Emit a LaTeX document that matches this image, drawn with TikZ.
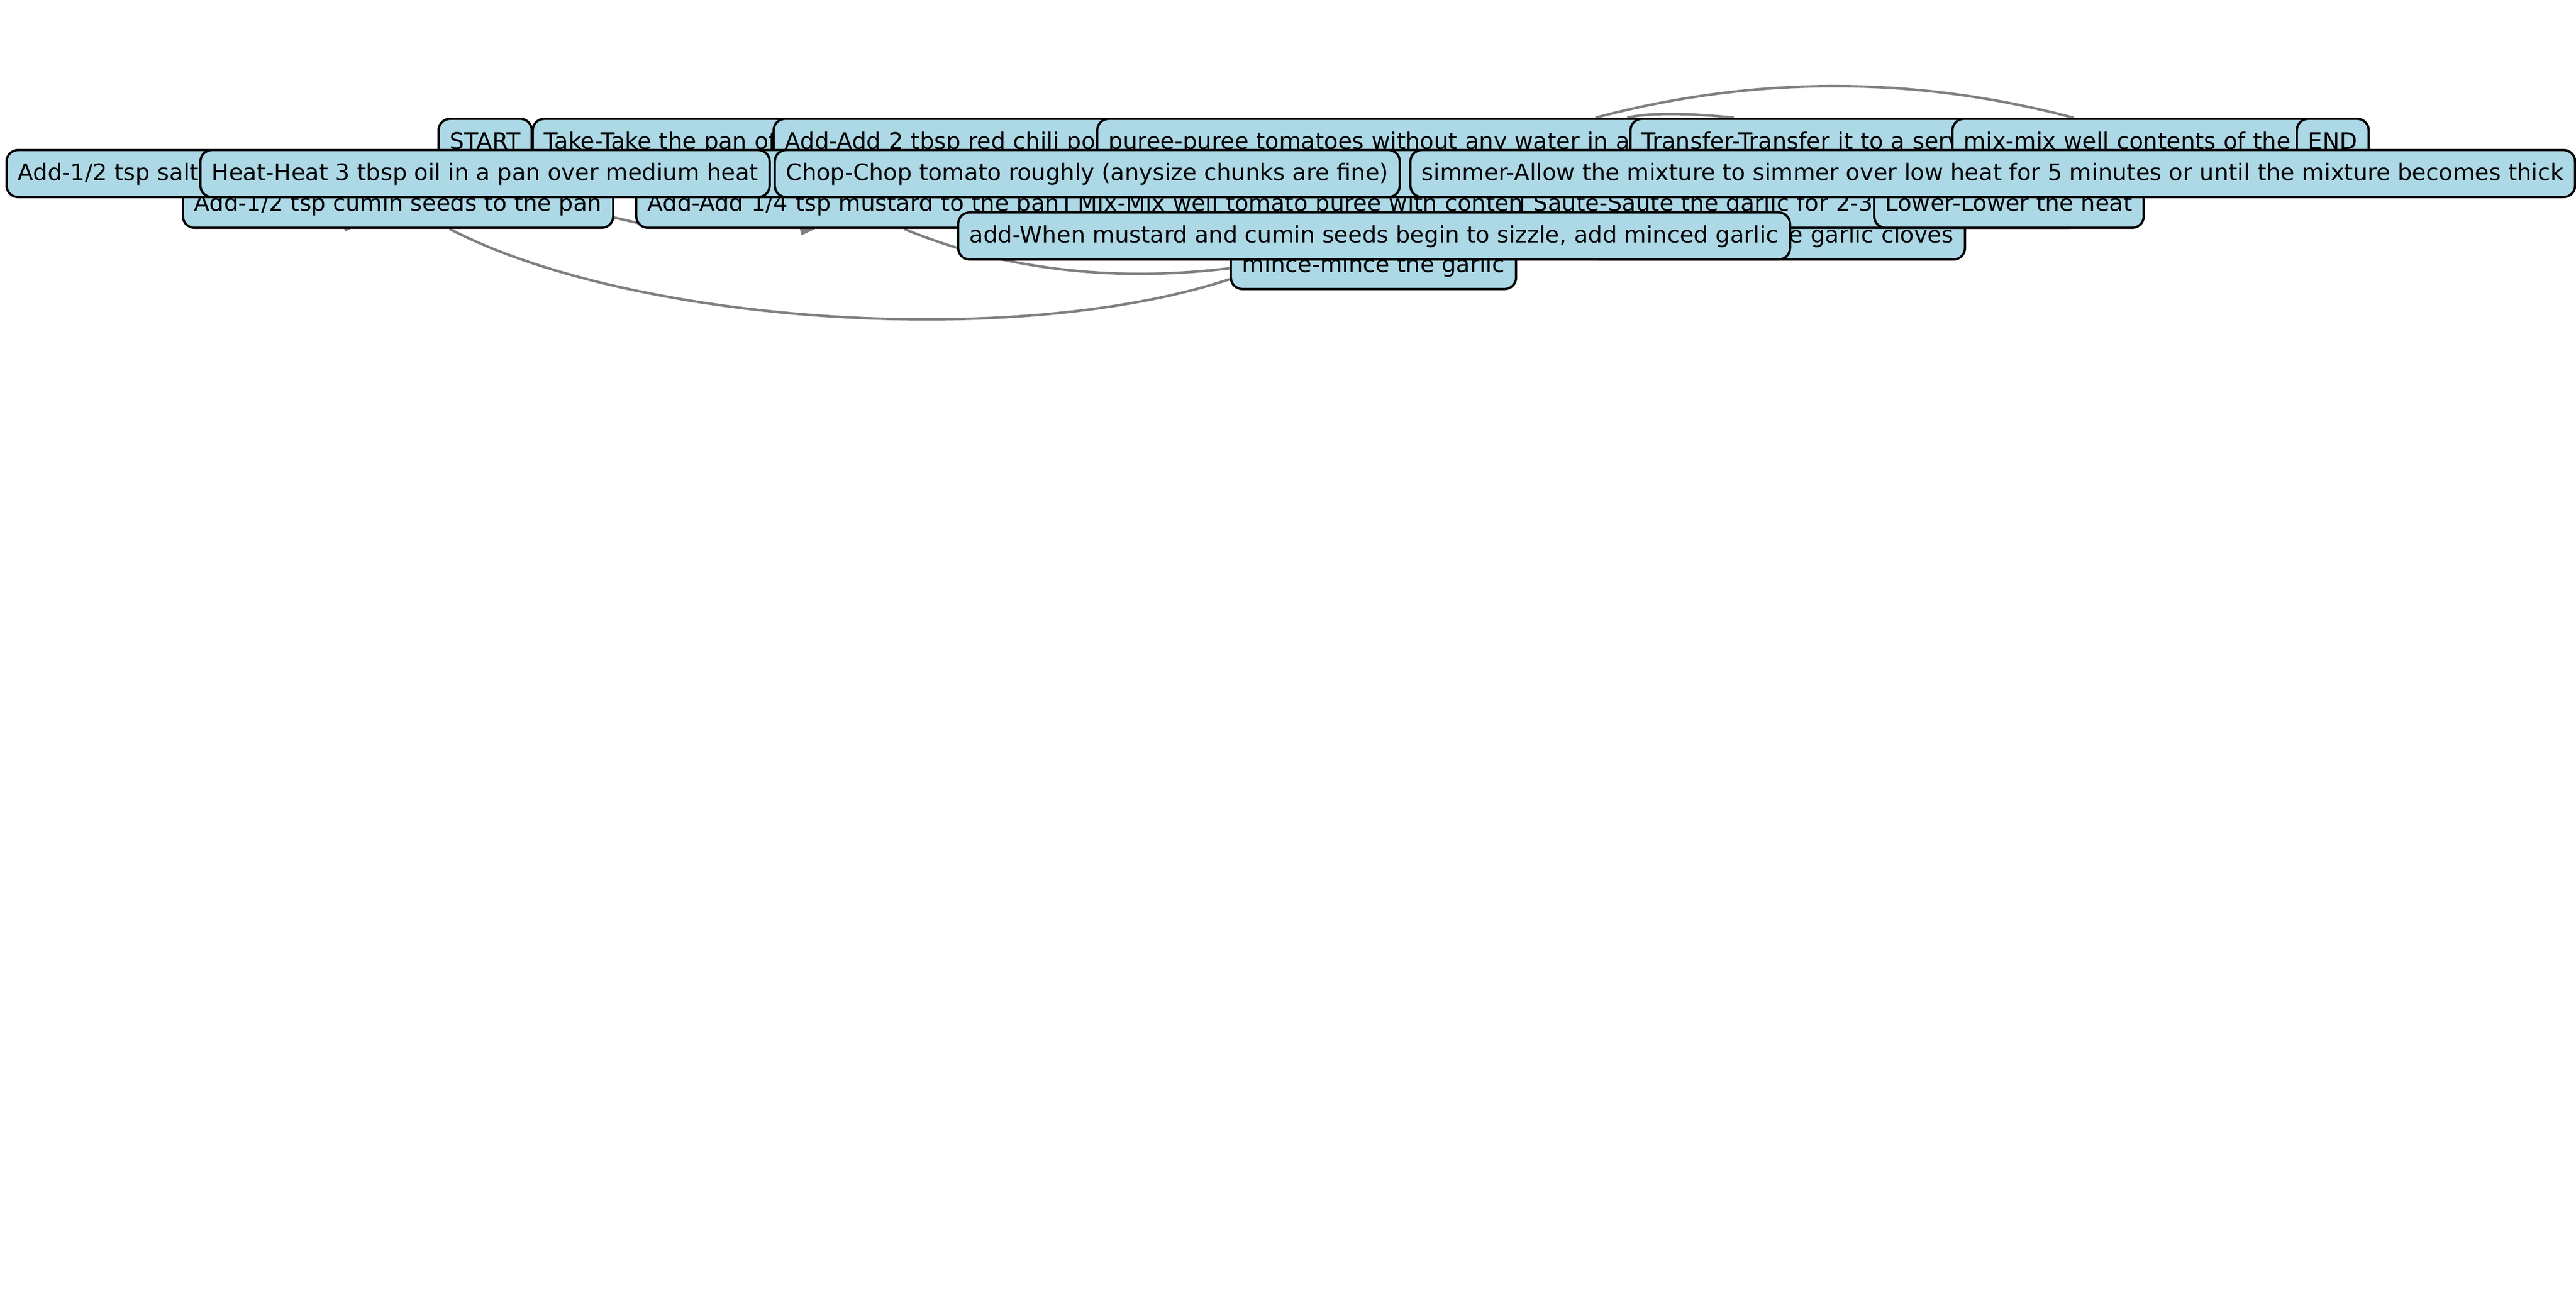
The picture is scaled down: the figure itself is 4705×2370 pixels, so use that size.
\documentclass[tikz,border=0pt]{standalone}
\usepackage{fontspec}
\setmainfont{DejaVu Sans}
\usetikzlibrary{arrows.meta, calc}
\definecolor{lightblue}{HTML}{ADD8E6}
\pgfdeclarelayer{background}
\pgfsetlayers{background,main}

\begin{document}
\begin{tikzpicture}[x=0.24pt, y=-0.24pt,
 step node/.style={draw, fill=lightblue, rounded corners=5pt, line width=1pt,
   inner xsep=5pt, inner ysep=5pt, text height=8.2pt, text depth=2.4pt, anchor=west},
 hidden tail/.style={text width=#1, align=left},
 flow/.style={draw=gray, line width=1.1pt}]

  \useasboundingbox (0,0) rectangle (4705,2370);

  % top row
  \node[step node] (start) at (799,260) {START};
  \node[step node, hidden tail=165pt] (take) at (971,260) {Take-Take the pan of};
  \node[step node, hidden tail=203.4pt] (chili) at (1411,260) {Add-Add 2 tbsp red chili po};
  \node[step node, hidden tail=277.5pt] (puree) at (2002,260) {puree-puree tomatoes without any water in a};
  \node[step node, hidden tail=187.8pt] (transfer) at (2976,260) {Transfer-Transfer it to a serv};
  \node[step node, hidden tail=166.6pt] (mixwell) at (3564,260) {mix-mix well contents of the};
  \node[step node] (end) at (4193,260) {END};

  \node[step node] (mince) at (2246,485) {mince-mince the garlic};
  \node[step node, hidden tail=155.8pt, align=right, anchor=east] (cloves) at (3591,431) {e garlic cloves};

  \node[step node] (cumin) at (332,373) {Add-1/2 tsp cumin seeds to the pan};
  \node[step node, hidden tail=311.6pt] (mustard) at (1160,373) {Add-Add 1/4 tsp mustard to the pan};
  \node[step node, hidden tail=315pt] (mixtomato) at (1946,373) {Mix-Mix well tomato puree with conten};
  \node[step node, hidden tail=235.3pt] (saute) at (2778,373) {Saute-Saute the garlic for 2-3};
  \node[step node] (lower) at (3421,373) {Lower-Lower the heat};

  \node[step node] (addwhen) at (1748,431) {add-When mustard and cumin seeds begin to sizzle, add minced garlic};

  % middle row on top
  \node[step node, hidden tail=179.6pt] (salt) at (10,317) {Add-1/2 tsp salt};
  \node[step node, hidden tail=314pt] (hidden step) at (1300,317) {};
  \node[step node] (heat) at (364,317) {Heat-Heat 3 tbsp oil in a pan over medium heat};
  \node[step node] (chop) at (1413,317) {Chop-Chop tomato roughly (anysize chunks are fine)};
  \node[step node] (simmer) at (2574,317) {simmer-Allow the mixture to simmer over low heat for 5 minutes or until the mixture becomes thick};

  \coordinate (tip a) at (630,423);
  \coordinate (tip b) at (1464,430);

  \begin{pgfonlayer}{background}
   \draw[flow] ($(cumin.south west)+(489,0)$) .. controls (1150,590) and (1850,640) .. ($(mince.west)+(0,25)$);
   \draw[flow] ($(mustard.south west)+(491,0)$) .. controls (1800,480) and (2000,520) .. ($(mince.west)+(0,5)$);
   \draw[flow] ($(cumin.east)+(-33,17)$) -- ($(mustard.west)+(30,40)$);
   \draw[flow] ($(puree.north west)+(912,0)$) .. controls (3205,138) and (3496,138) .. ($(mixwell.north west)+(223,0)$);
   \draw[flow] ($(transfer.north west)+(-4,0)$) .. controls (3010,206) and (3080,206) .. ($(transfer.north west)+(191,0)$);
   \draw[flow, -{Triangle[length=5pt, width=8pt]}] ($(tip a)+(14,-30)$) -- (tip a);
   \draw[flow, -{Triangle[length=5pt, width=8pt]}] ($(tip b)+(14,-30)$) -- (tip b);
  \end{pgfonlayer}
\end{tikzpicture}
\end{document}
